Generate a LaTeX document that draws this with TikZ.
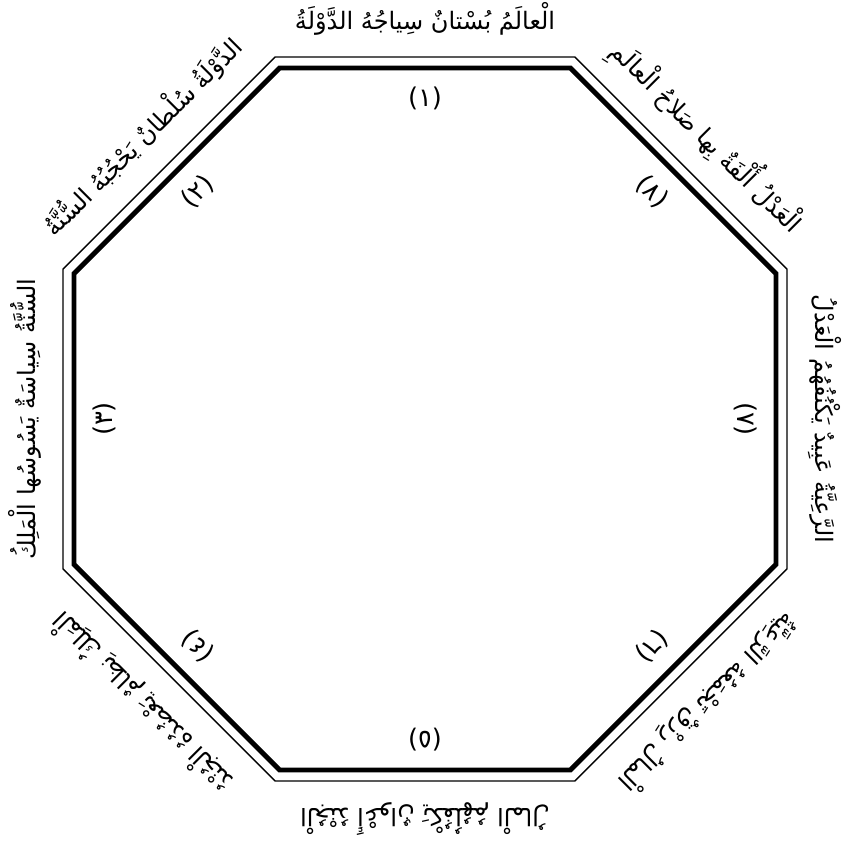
\documentclass[tikz,border=0pt]{standalone}
\usepackage{fontspec}
\newfontfamily\arabicfont[Script=Arabic]{DejaVu Sans}
\TeXXeTstate=1
\usetikzlibrary{calc}

\begin{document}
\begin{tikzpicture}[x=0.03cm,y=0.03cm,
    sidetext/.style={font=\arabicfont\fontsize{20.5}{24}\selectfont, inner sep=0pt},
    sidenum/.style={font=\arabicfont\fontsize{22}{24}\selectfont, inner sep=0pt}]
        \useasboundingbox (0,0) rectangle (846,854);
        \coordinate (O) at (425,435);

        % corners: outer thin line (apothem 362) and inner thick line (apothem 351)
        \foreach \k in {0,...,7} {
            \coordinate (a\k) at ($(O)+(22.5+45*\k:391.8)$);
            \coordinate (b\k) at ($(O)+(22.5+45*\k:379.9)$);
        }
        \draw[line width=1.2pt] (a0) -- (a1) -- (a2) -- (a3) -- (a4) -- (a5) -- (a6) -- (a7) -- cycle;
        \draw[line width=4.2pt] (b0) -- (b1) -- (b2) -- (b3) -- (b4) -- (b5) -- (b6) -- (b7) -- cycle;

        % one saying per side, turned so that its foot faces the octagon
        \foreach \ang/\txt/\num [count=\i] in {
            90/{الْعالَمُ بُسْتانٌ سِياجُهُ الدَّوْلَةُ}/١,
            135/{الدَّوْلَةُ سُلْطانٌ يَحْجُبُهُ السُّنَّةُ}/٢,
            180/{السُّنَّةُ سِياسَةٌ يَسُوسُها الْمَلِكُ}/٣,
            225/{الْمَلِكُ نِظامٌ يَعْضُدُهُ الْجُنْدُ}/٤,
            270/{الْجُنْدُ أَعْوانٌ يَكْفُلُهُمُ الْمالُ}/٥,
            315/{الْمالُ رِزْقٌ تَجْمَعُهُ الرَّعِيَّةُ}/٦,
            0/{الرَّعِيَّةُ عَبِيدٌ يَكْنُفُهُمُ الْعَدْلُ}/٧,
            45/{الْعَدْلُ أُلْفَةٌ بِها صَلاحُ الْعالَمِ}/٨} {
            \node[sidetext, rotate=\ang-90] (s\i) at ($(O)+(\ang:400)$) {\beginR\txt\endR};
            \node[sidenum, rotate=\ang-90] (n\i) at ($(O)+(\ang:321)$) {(\num)};
        }

    \end{tikzpicture}
\end{document}
